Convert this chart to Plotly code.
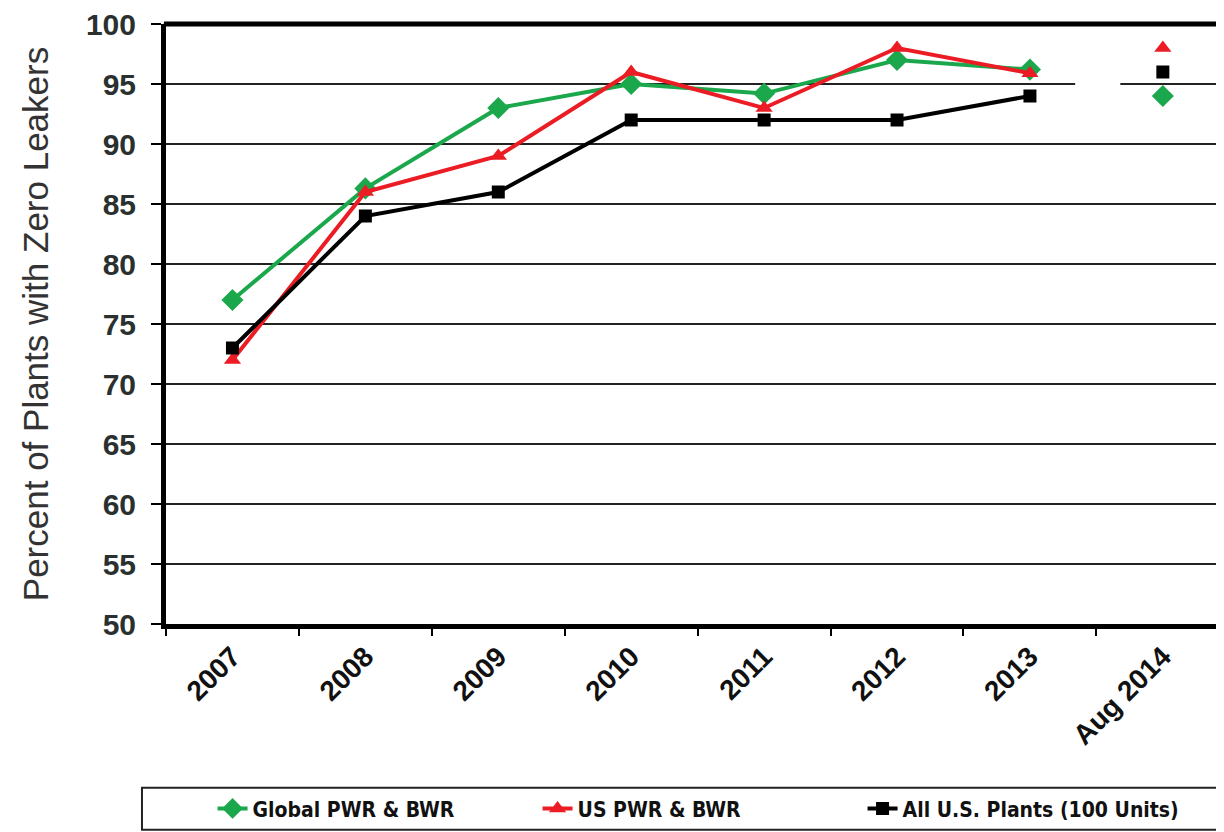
import plotly.graph_objects as go

categories = ["2007", "2008", "2009", "2010", "2011", "2012", "2013", "Aug 2014"]
global_pwr_bwr = [77, 86.3, 93, 95, 94.2, 97, 96.2, 94]
us_pwr_bwr = [72, 86, 89, 96, 93, 98, 95.9, 98]
all_us_plants = [73, 84, 86, 92, 92, 92, 94, 96]
y_ticks = [50, 55, 60, 65, 70, 75, 80, 85, 90, 95, 100]

series = [
    ("Global PWR & BWR", global_pwr_bwr, "#1ba84c", "diamond", 17),
    ("US PWR & BWR", us_pwr_bwr, "#ec1c24", "triangle-up", 15),
    ("All U.S. Plants (100 Units)", all_us_plants, "#000000", "square", 13),
]

fig = go.Figure()
for name, vals, color, sym, size in series:
    fig.add_trace(go.Scatter(
        x=categories[:7], y=vals[:7], name=name, mode="lines+markers",
        line=dict(color=color, width=4),
        marker=dict(symbol=sym, size=size, color=color),
    ))
for name, vals, color, sym, size in series:
    fig.add_trace(go.Scatter(
        x=categories[7:], y=vals[7:], name=name, mode="markers",
        showlegend=False,
        marker=dict(symbol=sym, size=size, color=color),
    ))

font_main = "Liberation Sans, Arial, sans-serif"
font_narrow = "DejaVu Sans Condensed, Liberation Sans Narrow, Arial Narrow, Liberation Sans, sans-serif"

fig.update_layout(
    width=1216, height=824,
    margin=dict(l=158, r=0, t=16, b=208),
    paper_bgcolor="white", plot_bgcolor="white",
    font=dict(family=font_main, color="#111"),
    xaxis=dict(
        type="category", categoryorder="array", categoryarray=categories,
        range=[-0.5, 7.46], automargin=False,
        showgrid=False, showline=True, linecolor="black", linewidth=5,
        ticks="outside", tickson="boundaries", ticklen=7, tickwidth=2, tickcolor="black",
        tickangle=-45, ticklabeloverflow="allow",
        tickfont=dict(family=font_main, size=28, weight="bold", color="#111"),
    ),
    yaxis=dict(
        range=[50, 100], tickvals=y_ticks, automargin=False,
        showgrid=True, gridcolor="#222", gridwidth=2,
        showline=True, linecolor="black", linewidth=5,
        ticks="outside", ticklen=10, tickwidth=2, tickcolor="black",
        ticklabelstandoff=9, ticklabeloverflow="allow",
        tickfont=dict(family=font_main, size=30, weight="bold", color="#2a302f"),
        title=dict(text="Percent of Plants with Zero Leakers", standoff=28,
                   font=dict(family=font_main, size=35, color="#333")),
        zeroline=False,
    ),
    showlegend=True,
    legend=dict(
        orientation="h", x=0.044, xanchor="left", y=-0.308, yanchor="middle",
        bgcolor="rgba(0,0,0,0)", borderwidth=0,
        font=dict(family=font_narrow, size=21, weight="bold", color="#111"),
        entrywidth=280, itemwidth=30,
    ),
    shapes=[
        dict(type="line", xref="paper", yref="paper", x0=-0.002, x1=1, y0=1, y1=1,
             line=dict(color="black", width=5), layer="above"),
        dict(type="rect", xref="x", yref="y", x0=6.34, x1=6.68, y0=94.7, y1=95.3,
             fillcolor="white", line=dict(width=0), layer="between"),
        dict(type="rect", xref="paper", yref="paper", x0=-0.0227, x1=1.01,
             y0=-0.343, y1=-0.273, line=dict(color="#222", width=2),
             fillcolor="rgba(0,0,0,0)", layer="above"),
    ],
)

fig.write_html("out.html")
